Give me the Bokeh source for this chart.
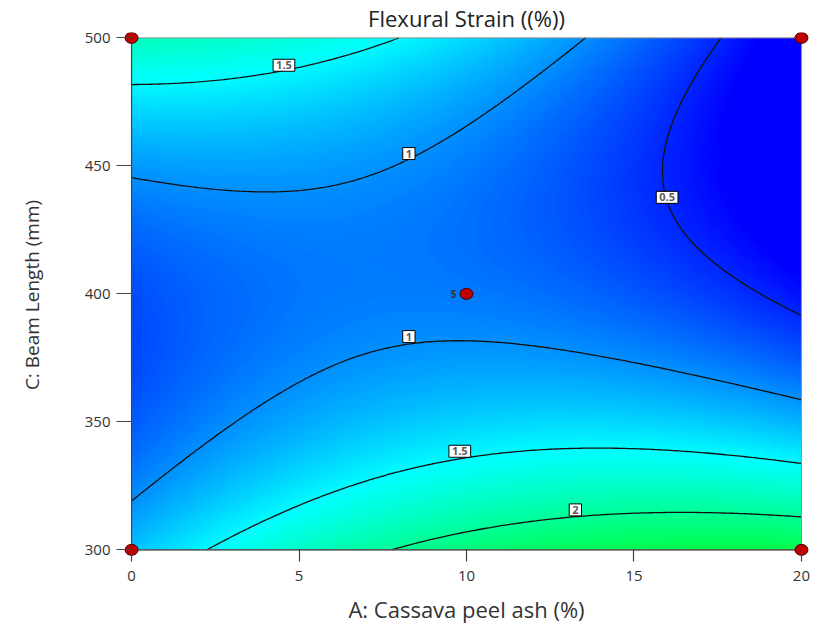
import numpy as np
from bokeh.plotting import figure
from bokeh.models import LinearColorMapper, Range1d
from bokeh.core.properties import value
from bokeh.embed import file_html
from bokeh.resources import INLINE

FONT = "Open Sans"

# ---- factor ranges and ticks ----
A_range = [0, 20]
C_range = [300, 500]
A_ticks = [0, 5, 10, 15, 20]
C_ticks = [300, 350, 400, 450, 500]
contour_levels = [0.5, 1.0, 1.5, 2.0]

# ---- points traced along the contour lines of the reference ----
trace_A = [0, 2.06, 4.5, 8.08,
           0, 4.15, 8.43, 10.02, 12.01, 13.55,
           17.58, 16.14, 15.84, 16.39, 18.08, 19.0, 20,
           0, 2.79, 4.97, 6.97, 8.26, 9.95, 12.99, 15.97, 20,
           2.24, 5.04, 8.98, 10, 11.61, 14.6, 17.6, 20,
           7.68, 9.52, 11.5, 13.1, 16.1, 20]
trace_C = [481.7, 482.9, 487.4, 500,
           445, 439.7, 454.0, 466.9, 484.4, 500,
           500, 467.3, 447.9, 428.4, 409.0, 397.3, 391,
           319.5, 346.7, 365.5, 376.5, 380.4, 381.4, 377.8, 369.8, 358.4,
           300, 316, 333.7, 336, 338.2, 340, 337.6, 333.7,
           300, 306.5, 310.4, 312.7, 314.5, 312.7]
trace_level = [1.5] * 4 + [1.0] * 6 + [0.5] * 7 + [1.0] * 9 + [1.5] * 8 + [2.0] * 6

# design points
design_A = [0, 0, 20, 20, 10]
design_C = [300, 500, 300, 500, 400]
center_label = ["5"]

# contour label boxes
clabel_text = ["1.5", "1", "0.5", "1", "1.5", "2"]
clabel_A = [4.55, 8.28, 15.99, 8.28, 9.8, 13.25]
clabel_C = [489.3, 454.8, 437.7, 383.3, 338.5, 315.6]

# ---- quadratic response surface fitted to the traced points ----
tA = np.array(trace_A, float)
tC = np.array(trace_C, float)
tL = np.array(trace_level, float)
xa = (tA - 10) / 10
zc = (tC - 400) / 100
M = np.column_stack([np.ones_like(xa), xa, zc, xa * zc, xa * xa, zc * zc])
coef, *_ = np.linalg.lstsq(M, tL, rcond=None)

gA = np.linspace(A_range[0], A_range[1], 241)
gC = np.linspace(C_range[0], C_range[1], 241)
AA, CC = np.meshgrid(gA, gC)
X = (AA - 10) / 10
Zc = (CC - 400) / 100
Z = coef[0] + coef[1] * X + coef[2] * Zc + coef[3] * X * Zc + coef[4] * X * X + coef[5] * Zc * Zc

# ---- palette blue -> cyan -> green -> yellow -> red ----
anchors = [(0, 0, 255), (0, 255, 255), (0, 255, 0), (255, 255, 0), (255, 0, 0)]
palette = []
for i in range(256):
    t = i / 255 * 4
    k = min(int(t), 3)
    f = t - k
    c0, c1 = anchors[k], anchors[k + 1]
    palette.append("#%02x%02x%02x" % tuple(int(round(c0[j] + (c1[j] - c0[j]) * f)) for j in range(3)))
mapper = LinearColorMapper(palette=palette, low=0.32, high=5.1, low_color="#0000ff")

# small margin around the design space so the corner points are drawn whole
padA, padC_low, padC_high = 0.3, 3, 2.1
p = figure(width=830, height=634,
           x_range=Range1d(A_range[0] - padA, A_range[1] + padA),
           y_range=Range1d(C_range[0] - padC_low, C_range[1] + padC_high),
           output_backend="svg", toolbar_location=None,
           min_border_left=121, min_border_right=19, min_border_top=31, min_border_bottom=77)
p.outline_line_color = None
p.xgrid.visible = False
p.ygrid.visible = False

p.title.text = "Flexural Strain ((%))"
p.title.align = "center"
p.title.text_font = FONT
p.title.text_font_size = "22px"
p.title.text_font_style = "normal"
p.title.text_color = "#222222"
p.title.standoff = 0

p.image(image=[Z], x=A_range[0], y=C_range[0], dw=A_range[1] - A_range[0], dh=C_range[1] - C_range[0],
        color_mapper=mapper)
p.contour(x=AA, y=CC, z=Z, levels=contour_levels, line_color="#111111", line_width=1.3)

# border of the design space: light top/right, dark axis lines left/bottom
p.quad(left=[A_range[0]], right=[A_range[1]], bottom=[C_range[0]], top=[C_range[1]],
       fill_color=None, line_color="#909090", line_width=1)
p.segment(x0=[A_range[0], A_range[0]], y0=[C_range[0], C_range[0]],
          x1=[A_range[0], A_range[1]], y1=[C_range[1], C_range[0]],
          line_color="#444444", line_width=1.2)

p.text(x=clabel_A, y=clabel_C, text=clabel_text, text_font=value(FONT), text_font_size="11px",
       text_font_style="bold", text_color="#5a5a5a", text_align="center", text_baseline="middle",
       background_fill_color="white", border_line_color="black", border_line_width=1, padding=[3, 2])

p.ellipse(x=design_A, y=design_C, width=13, height=11, width_units="screen", height_units="screen",
          fill_color="#c00000", line_color="#4a0000", line_width=1)
p.text(x=design_A[4:], y=design_C[4:], text=center_label, x_offset=-10, text_font=value(FONT),
       text_font_size="10px", text_font_style="bold", text_color="#333333",
       text_align="right", text_baseline="middle")

for ax, ticks in ((p.xaxis, A_ticks), (p.yaxis, C_ticks)):
    ax.ticker = ticks
    ax.axis_line_color = None
    ax.minor_tick_line_color = None
    ax.major_tick_line_color = "#444444"
    ax.major_tick_line_width = 1.2
    ax.major_label_text_font = FONT
    ax.major_label_text_font_size = "15px"
    ax.major_label_text_color = "#333333"
    ax.axis_label_text_font = FONT
    ax.axis_label_text_font_style = "normal"
    ax.axis_label_text_color = "#333333"

# ticks reach from the design-space edge across the small margin
p.yaxis.major_tick_in = 10
p.yaxis.major_tick_out = 5
p.xaxis.major_tick_in = 8
p.xaxis.major_tick_out = 4

p.xaxis.axis_label = "A: Cassava peel ash (%)"
p.yaxis.axis_label = "C: Beam Length (mm)"
p.xaxis.axis_label_text_font_size = "22px"
p.yaxis.axis_label_text_font_size = "19px"
p.xaxis.major_label_standoff = 9
p.yaxis.major_label_standoff = 6
p.xaxis.axis_label_standoff = 10
p.yaxis.axis_label_standoff = 37

open("out.html", "w").write(file_html(p, INLINE))
